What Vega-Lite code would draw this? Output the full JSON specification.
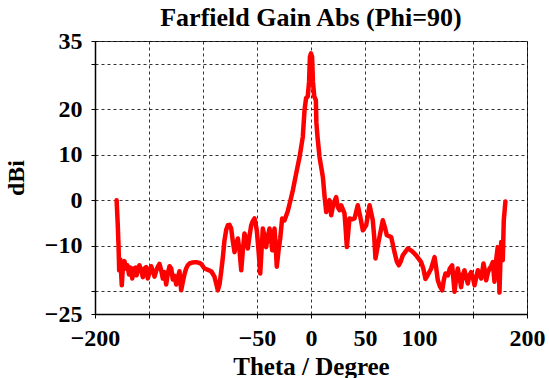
{
  "$schema": "https://vega.github.io/schema/vega-lite/v6.json",
  "width": 432,
  "height": 273,
  "autosize": {"type": "none"},
  "padding": {"left": 95, "top": 41, "right": 22, "bottom": 64},
  "background": "white",
  "title": {
    "text": "Farfield Gain Abs (Phi=90)",
    "font": "Liberation Serif",
    "fontSize": 26,
    "fontWeight": "bold",
    "color": "black",
    "anchor": "middle",
    "baseline": "alphabetic",
    "offset": 0,
    "dy": 23
  },
  "data": {
    "values": [
      {"theta": -180, "gain": 0}, {"theta": -179, "gain": -5}, {"theta": -178.2, "gain": -10}, {"theta": -177.6, "gain": -15.4},
      {"theta": -176.5, "gain": -13}, {"theta": -175.2, "gain": -18.7}, {"theta": -174, "gain": -14}, {"theta": -172.7, "gain": -13.4},
      {"theta": -171.5, "gain": -15}, {"theta": -170, "gain": -14.3}, {"theta": -168.5, "gain": -16.3}, {"theta": -167, "gain": -14.8},
      {"theta": -165.5, "gain": -17.2}, {"theta": -164, "gain": -15}, {"theta": -162.5, "gain": -14.8}, {"theta": -161.5, "gain": -16.5},
      {"theta": -160.3, "gain": -15}, {"theta": -158.8, "gain": -14.3}, {"theta": -157.2, "gain": -15.5}, {"theta": -155.7, "gain": -16.9},
      {"theta": -154.2, "gain": -15}, {"theta": -152.6, "gain": -14.7}, {"theta": -151.1, "gain": -17.2}, {"theta": -149.5, "gain": -15.8},
      {"theta": -148, "gain": -14.5}, {"theta": -146.5, "gain": -15.5}, {"theta": -144.9, "gain": -16.8}, {"theta": -143.3, "gain": -15.5},
      {"theta": -141.8, "gain": -14.6}, {"theta": -140.3, "gain": -14}, {"theta": -138.7, "gain": -15.4}, {"theta": -137.2, "gain": -17.2},
      {"theta": -135.6, "gain": -15.8}, {"theta": -134.1, "gain": -18.5}, {"theta": -132.5, "gain": -16}, {"theta": -131, "gain": -14.5},
      {"theta": -129.4, "gain": -15}, {"theta": -128, "gain": -17.4}, {"theta": -126.4, "gain": -16.6}, {"theta": -124.8, "gain": -18.5},
      {"theta": -123.3, "gain": -17}, {"theta": -121.8, "gain": -15.6}, {"theta": -120.2, "gain": -19.8}, {"theta": -118.7, "gain": -18},
      {"theta": -117.1, "gain": -16.2}, {"theta": -115.6, "gain": -15}, {"theta": -114.1, "gain": -14.3}, {"theta": -112.5, "gain": -13.9},
      {"theta": -110, "gain": -13.7}, {"theta": -106.3, "gain": -13.6}, {"theta": -103.2, "gain": -13.8}, {"theta": -101.7, "gain": -14},
      {"theta": -98.6, "gain": -15}, {"theta": -95.5, "gain": -15.3}, {"theta": -92.4, "gain": -15.6}, {"theta": -89.4, "gain": -16.8},
      {"theta": -87.8, "gain": -18.3}, {"theta": -86.3, "gain": -19.8}, {"theta": -84.7, "gain": -18.5}, {"theta": -83.1, "gain": -15.6},
      {"theta": -81.6, "gain": -12.5}, {"theta": -80.1, "gain": -8.8}, {"theta": -78.5, "gain": -6.5}, {"theta": -77, "gain": -5.5},
      {"theta": -75.5, "gain": -5.4}, {"theta": -73.9, "gain": -6.2}, {"theta": -72.4, "gain": -9}, {"theta": -70.8, "gain": -11.4},
      {"theta": -69.3, "gain": -9.5}, {"theta": -67.7, "gain": -8.4}, {"theta": -66.2, "gain": -11}, {"theta": -64.6, "gain": -15.4},
      {"theta": -63.1, "gain": -11}, {"theta": -61.6, "gain": -7.3}, {"theta": -60, "gain": -8.5}, {"theta": -58.5, "gain": -10.6},
      {"theta": -57, "gain": -8}, {"theta": -55.4, "gain": -5.5}, {"theta": -53.9, "gain": -4.6}, {"theta": -52.3, "gain": -4.0},
      {"theta": -50.2, "gain": -6.6}, {"theta": -48.6, "gain": -11}, {"theta": -47, "gain": -16.1}, {"theta": -45.8, "gain": -11},
      {"theta": -44.6, "gain": -6.2}, {"theta": -43, "gain": -8}, {"theta": -41.5, "gain": -10.3}, {"theta": -40, "gain": -8},
      {"theta": -38.4, "gain": -6.2}, {"theta": -37, "gain": -8.5}, {"theta": -35.9, "gain": -11}, {"theta": -34.8, "gain": -8},
      {"theta": -33.8, "gain": -6.2}, {"theta": -32.7, "gain": -10}, {"theta": -31.7, "gain": -14.6}, {"theta": -30, "gain": -11},
      {"theta": -28.5, "gain": -8.4}, {"theta": -26.7, "gain": -4.0}, {"theta": -24.5, "gain": -4.4}, {"theta": -21.5, "gain": -2.4},
      {"theta": -19.5, "gain": -0.5}, {"theta": -16.8, "gain": 2.2}, {"theta": -13.7, "gain": 5.9}, {"theta": -10.6, "gain": 9.5},
      {"theta": -7.6, "gain": 13.9}, {"theta": -6, "gain": 19.8}, {"theta": -4.5, "gain": 22.5}, {"theta": -3, "gain": 22.8},
      {"theta": -1.8, "gain": 26}, {"theta": -1, "gain": 31.5}, {"theta": 0, "gain": 32.3}, {"theta": 1, "gain": 31.5},
      {"theta": 1.8, "gain": 26}, {"theta": 3, "gain": 22.8}, {"theta": 4.5, "gain": 22}, {"theta": 5, "gain": 17},
      {"theta": 6, "gain": 14}, {"theta": 7.9, "gain": 9.5}, {"theta": 11, "gain": 5.1}, {"theta": 12.5, "gain": 1},
      {"theta": 14.1, "gain": -2.6}, {"theta": 15.5, "gain": -0.5}, {"theta": 17.1, "gain": 0}, {"theta": 18.7, "gain": -3.3},
      {"theta": 20.5, "gain": -1}, {"theta": 23.3, "gain": 0.7}, {"theta": 24.8, "gain": -1.5}, {"theta": 26.4, "gain": -2.2},
      {"theta": 28, "gain": -1.1}, {"theta": 31, "gain": -2.9}, {"theta": 32, "gain": -6}, {"theta": 33.2, "gain": -10.3},
      {"theta": 34.5, "gain": -7}, {"theta": 35.6, "gain": -4.0}, {"theta": 38, "gain": -4.2}, {"theta": 40.3, "gain": -4.0},
      {"theta": 43.3, "gain": -1.1}, {"theta": 45.5, "gain": -3.5}, {"theta": 48, "gain": -6.6}, {"theta": 51.1, "gain": -5.5},
      {"theta": 54.2, "gain": -1.1}, {"theta": 57.2, "gain": -4.4}, {"theta": 58.5, "gain": -8}, {"theta": 59.7, "gain": -12.8},
      {"theta": 62.8, "gain": -8.8}, {"theta": 66.5, "gain": -4.4}, {"theta": 68.5, "gain": -6}, {"theta": 70.2, "gain": -7.7},
      {"theta": 74.3, "gain": -8.1}, {"theta": 77.3, "gain": -11.4}, {"theta": 79.5, "gain": -13.5}, {"theta": 81.3, "gain": -14.3},
      {"theta": 83, "gain": -13.5}, {"theta": 85, "gain": -12.1}, {"theta": 89.6, "gain": -10.6}, {"theta": 93.5, "gain": -11.2},
      {"theta": 97.4, "gain": -12.1}, {"theta": 102, "gain": -13.6}, {"theta": 104, "gain": -15}, {"theta": 106, "gain": -17.3},
      {"theta": 108, "gain": -16.5}, {"theta": 111.3, "gain": -15}, {"theta": 114.4, "gain": -12.5}, {"theta": 116, "gain": -15},
      {"theta": 117.4, "gain": -17.6}, {"theta": 119.5, "gain": -19}, {"theta": 121.5, "gain": -19.8}, {"theta": 123, "gain": -17.5},
      {"theta": 124.5, "gain": -16.1}, {"theta": 126.7, "gain": -16.5}, {"theta": 128.5, "gain": -15}, {"theta": 130.7, "gain": -14.3},
      {"theta": 132.9, "gain": -20.1}, {"theta": 134.5, "gain": -17}, {"theta": 135.9, "gain": -15}, {"theta": 137.5, "gain": -17},
      {"theta": 139, "gain": -19.1}, {"theta": 140.5, "gain": -16.5}, {"theta": 142.1, "gain": -15.4}, {"theta": 143.7, "gain": -17},
      {"theta": 145.2, "gain": -18.3}, {"theta": 146.7, "gain": -16.5}, {"theta": 148.3, "gain": -15.8}, {"theta": 149.9, "gain": -17},
      {"theta": 151.4, "gain": -18.7}, {"theta": 153, "gain": -17}, {"theta": 154.5, "gain": -15.4}, {"theta": 156, "gain": -16},
      {"theta": 157.6, "gain": -17.2}, {"theta": 159.7, "gain": -13.9}, {"theta": 161, "gain": -15.5}, {"theta": 162.2, "gain": -17.6},
      {"theta": 163.7, "gain": -16}, {"theta": 165.3, "gain": -15}, {"theta": 166.8, "gain": -14.5}, {"theta": 168.3, "gain": -13.6},
      {"theta": 169.9, "gain": -17.9}, {"theta": 171.5, "gain": -13}, {"theta": 172.9, "gain": -10.3}, {"theta": 174, "gain": -15},
      {"theta": 174.5, "gain": -20.3}, {"theta": 175.3, "gain": -14}, {"theta": 176.1, "gain": -9.2}, {"theta": 177, "gain": -11},
      {"theta": 177.6, "gain": -13.2}, {"theta": 178.5, "gain": -4.4}, {"theta": 180, "gain": -0.3}
    ]
  },
  "mark": {"type": "line", "color": "#ff0000", "strokeWidth": 4.5, "strokeJoin": "round", "strokeCap": "round"},
  "encoding": {
    "x": {
      "field": "theta",
      "type": "quantitative",
      "scale": {"domain": [-200, 200], "nice": false, "zero": false},
      "axis": {
        "title": "Theta / Degree",
        "values": [-200, -150, -100, -50, 0, 50, 100, 150, 200],
        "labelExpr": "indexof([-150, -100, 150], datum.value) >= 0 ? '' : datum.label",
        "labelFlush": false,
        "labelPadding": 8,
        "titlePadding": 4
      }
    },
    "y": {
      "field": "gain",
      "type": "quantitative",
      "scale": {"domain": [-25, 35], "nice": false, "zero": false},
      "axis": {
        "title": "dBi",
        "values": [-25, -20, -10, 0, 10, 20, 30, 35],
        "labelExpr": "indexof([-20, 30], datum.value) >= 0 ? '' : datum.label",
        "labelPadding": 9,
        "titlePadding": 16
      }
    }
  },
  "config": {
    "view": {"stroke": "#333333", "strokeWidth": 1},
    "axis": {
      "grid": true,
      "gridColor": "#000000",
      "gridDash": [3, 3],
      "gridWidth": 1,
      "gridOpacity": 0.8,
      "domainColor": "#000000",
      "domainWidth": 1.5,
      "tickColor": "#000000",
      "tickSize": 4,
      "tickWidth": 1,
      "labelFont": "Liberation Serif",
      "labelFontSize": 24,
      "labelFontWeight": "bold",
      "labelColor": "#000000",
      "labelOverlap": false,
      "titleFont": "Liberation Serif",
      "titleFontSize": 25,
      "titleFontWeight": "bold",
      "titleColor": "#000000"
    },
    "axisY": {"titleFontSize": 24}
  }
}
